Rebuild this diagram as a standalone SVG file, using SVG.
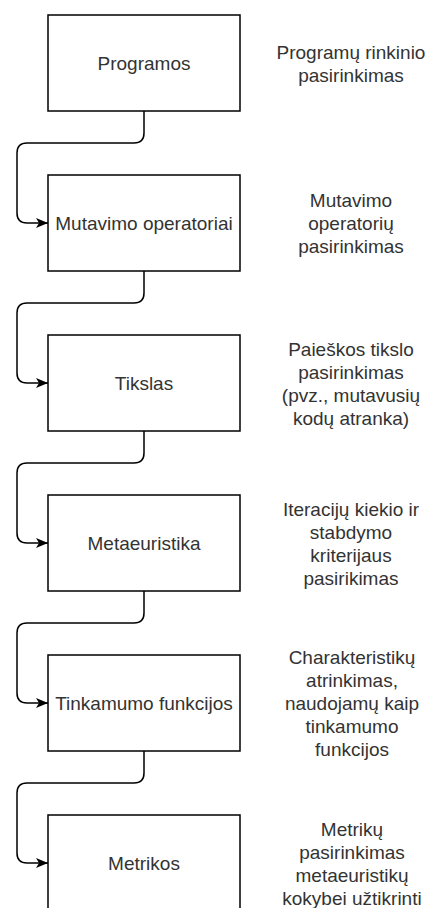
<svg xmlns="http://www.w3.org/2000/svg" width="427" height="908" viewBox="0 0 427 908">
  <style>
    .box { fill: #ffffff; stroke: #000000; stroke-width: 1.5; }
    .lbl { font-family: "Liberation Sans", Arial, sans-serif; font-size: 19px; fill: #333333; text-anchor: middle; }
    .edge { fill: none; stroke: #000000; stroke-width: 1.5; marker-end: url(#arrow); }
  </style>
  <defs>
    <marker id="arrow" viewBox="0 0 12 10" refX="12" refY="5" markerWidth="12" markerHeight="10" markerUnits="userSpaceOnUse" orient="auto">
      <path d="M0,0 L12,5 L0,10 L3,5 Z" fill="#000000"/>
    </marker>
  </defs>
  <rect width="427" height="908" fill="#ffffff"/>

  <!-- connectors between consecutive steps -->
  <g id="connectors">
    <path class="edge" d="M144,111 V133 Q144,143 134,143 H27 Q17,143 17,153 V213 Q17,223 27,223 H48"/>
    <path class="edge" d="M144,271 V293 Q144,303 134,303 H27 Q17,303 17,313 V373 Q17,383 27,383 H48"/>
    <path class="edge" d="M144,431 V453 Q144,463 134,463 H27 Q17,463 17,473 V533 Q17,543 27,543 H48"/>
    <path class="edge" d="M144,591 V613 Q144,623 134,623 H27 Q17,623 17,633 V693 Q17,703 27,703 H48"/>
    <path class="edge" d="M144,751 V773 Q144,783 134,783 H27 Q17,783 17,793 V853 Q17,863 27,863 H48"/>
  </g>

  <!-- step boxes -->
  <g id="programos">
    <rect class="box" x="48" y="15" width="192" height="96"/>
    <text class="lbl" x="144" y="70">Programos</text>
  </g>
  <g id="mutavimo-operatoriai">
    <rect class="box" x="48" y="175" width="192" height="96"/>
    <text class="lbl" x="144" y="230">Mutavimo operatoriai</text>
  </g>
  <g id="tikslas">
    <rect class="box" x="48" y="335" width="192" height="96"/>
    <text class="lbl" x="144" y="390">Tikslas</text>
  </g>
  <g id="metaeuristika">
    <rect class="box" x="48" y="495" width="192" height="96"/>
    <text class="lbl" x="144" y="550">Metaeuristika</text>
  </g>
  <g id="tinkamumo-funkcijos">
    <rect class="box" x="48" y="655" width="192" height="96"/>
    <text class="lbl" x="144" y="710">Tinkamumo funkcijos</text>
  </g>
  <g id="metrikos">
    <rect class="box" x="48" y="815" width="192" height="96"/>
    <text class="lbl" x="144" y="870">Metrikos</text>
  </g>

  <!-- descriptions of each step -->
  <g id="desc-programos">
    <text class="lbl" x="351" y="58.5">Programų rinkinio</text>
    <text class="lbl" x="351" y="81.5">pasirinkimas</text>
  </g>
  <g id="desc-mutavimo">
    <text class="lbl" x="351" y="207">Mutavimo</text>
    <text class="lbl" x="351" y="230">operatorių</text>
    <text class="lbl" x="351" y="253">pasirinkimas</text>
  </g>
  <g id="desc-tikslas">
    <text class="lbl" x="351" y="355.5">Paieškos tikslo</text>
    <text class="lbl" x="351" y="378.5">pasirinkimas</text>
    <text class="lbl" x="351" y="401.5">(pvz., mutavusių</text>
    <text class="lbl" x="351" y="424.5">kodų atranka)</text>
  </g>
  <g id="desc-metaeuristika">
    <text class="lbl" x="351" y="515.5">Iteracijų kiekio ir</text>
    <text class="lbl" x="351" y="538.5">stabdymo</text>
    <text class="lbl" x="351" y="561.5">kriterijaus</text>
    <text class="lbl" x="351" y="584.5">pasirikimas</text>
  </g>
  <g id="desc-tinkamumo">
    <text class="lbl" x="352" y="664">Charakteristikų</text>
    <text class="lbl" x="352" y="687">atrinkimas,</text>
    <text class="lbl" x="352" y="710">naudojamų kaip</text>
    <text class="lbl" x="352" y="733">tinkamumo</text>
    <text class="lbl" x="352" y="756">funkcijos</text>
  </g>
  <g id="desc-metrikos">
    <text class="lbl" x="352" y="835.5">Metrikų</text>
    <text class="lbl" x="352" y="858.5">pasirinkimas</text>
    <text class="lbl" x="352" y="881.5">metaeuristikų</text>
    <text class="lbl" x="352" y="904.5">kokybei užtikrinti</text>
  </g>
</svg>
